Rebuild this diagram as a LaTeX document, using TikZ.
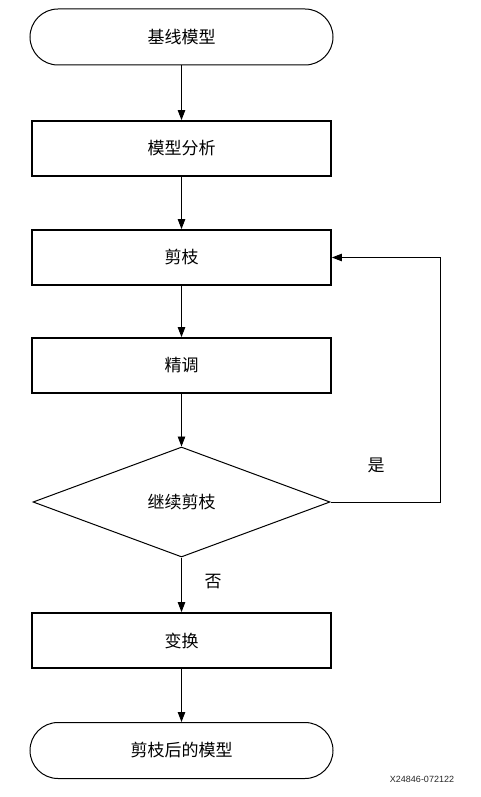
\documentclass[tikz,border=0pt]{standalone}
\usepackage{fontspec}
\newfontfamily\cjk{Noto Sans CJK SC}
\newfontfamily\labelfont{Liberation Sans}
\usetikzlibrary{shapes.geometric,shapes.misc,arrows.meta}

\tikzset{
	terminal/.style={rounded rectangle, draw=black, line width=1pt, minimum width=303pt, minimum height=56pt, inner sep=0pt},
	stepbox/.style={rectangle, draw=black, line width=1.8pt, minimum width=299pt, minimum height=55pt, inner sep=0pt},
	decision/.style={diamond, draw=black, line width=1pt, minimum width=297pt, minimum height=110pt, inner sep=0pt},
	flow/.style={-{Triangle[length=10pt,width=7.5pt]}, line width=0.9pt, color=black},
	note/.style={font=\cjk\fontsize{17}{20}\selectfont}
}

\begin{document}
\begin{tikzpicture}[x=1pt, y=-1pt, font=\cjk\fontsize{17}{20}\selectfont]

		\useasboundingbox (0,0) rectangle (480,797);

		\node[terminal](base) at (181.5,37){基线模型};
		\node[stepbox](analyse) at (181.5,148.5){模型分析};
		\node[stepbox](prune) at (181.5,257.5){剪枝};
		\node[stepbox](tune) at (181.5,365.5){精调};
		\node[decision](again) at (181.5,502){继续剪枝};
		\node[stepbox](convert) at (181.5,640.5){变换};
		\node[terminal](pruned) at (181.5,750.5){剪枝后的模型};

		\coordinate(turnlow) at (440,502);
		\coordinate(turnhigh) at (440,257.5);

		\draw [flow] (base.south) -- (analyse.north);
		\draw [flow] (analyse.south) -- (prune.north);
		\draw [flow] (prune.south) -- (tune.north);
		\draw [flow] (tune.south) -- (again.north);
		\draw [flow] (again.south) -- (convert.north);
		\draw [flow] (convert.south) -- (pruned.north);
		\draw [flow] (again.east) -- (turnlow) -- (turnhigh) -- (prune.east);

		\node[note](yes) at (376,465){是};
		\node[note](no) at (213,582){否};

		\node[font=\labelfont\fontsize{9}{10}\selectfont, color=black!85](code) at (422,779){X24846-072122};

	\end{tikzpicture}
\end{document}
